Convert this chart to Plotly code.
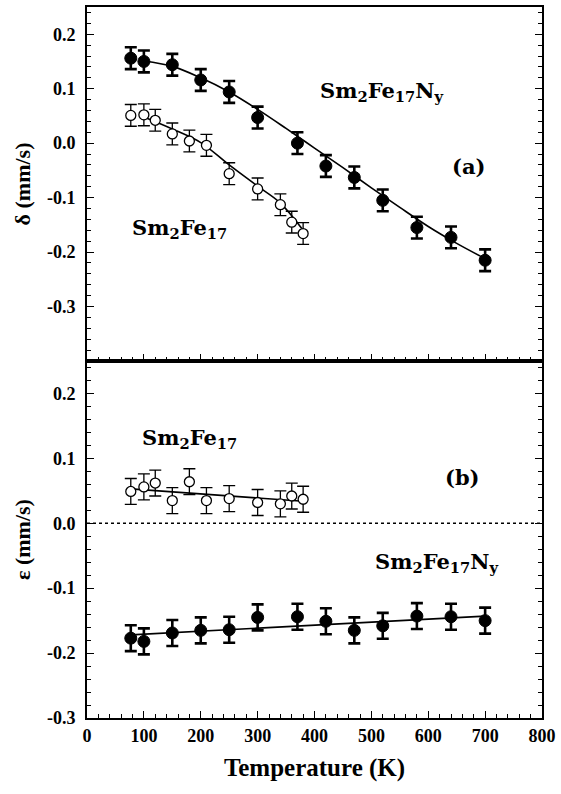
import plotly.graph_objects as go

# ---------------- data ----------------
# (a) isomer shift delta (mm/s)
T_N = [77, 100, 150, 200, 250, 300, 370, 420, 470, 520, 580, 640, 700]
delta_N = [0.156, 0.150, 0.144, 0.116, 0.094, 0.047, 0.000, -0.042, -0.063, -0.105, -0.155, -0.173, -0.215]
delta_N_err = [0.02] * 13

T_0 = [77, 100, 120, 150, 180, 210, 250, 300, 340, 360, 380]
delta_0 = [0.051, 0.052, 0.042, 0.017, 0.004, -0.004, -0.056, -0.084, -0.113, -0.145, -0.166]
delta_0_err = [0.02] * 11

fitT_N = [100, 150, 200, 250, 300, 350, 400, 450, 500, 550, 600, 650, 700]
fit_delta_N = [0.151, 0.141, 0.120, 0.094, 0.062, 0.027, -0.009, -0.045, -0.082, -0.118, -0.153, -0.184, -0.212]

fitT_0 = [100, 150, 200, 250, 300, 340, 380]
fit_delta_0 = [0.048, 0.026, 0.001, -0.040, -0.079, -0.110, -0.160]

# (b) quadrupole shift epsilon (mm/s)
eps_0 = [0.049, 0.056, 0.062, 0.035, 0.064, 0.035, 0.038, 0.032, 0.030, 0.042, 0.037]
eps_0_err = [0.02] * 11
eps_N = [-0.177, -0.182, -0.169, -0.165, -0.164, -0.145, -0.144, -0.151, -0.165, -0.158, -0.143, -0.144, -0.150]
eps_N_err = [0.02] * 13

fitT_eps_0 = [77, 380]
fit_eps_0 = [0.053, 0.034]
fitT_eps_N = [77, 700]
fit_eps_N = [-0.172, -0.143]

x_ticks = [0, 100, 200, 300, 400, 500, 600, 700, 800]
y_ticks = [0.2, 0.1, 0.0, -0.1, -0.2, -0.3]
y_ticklabels = ["0.2", "0.1", "0.0", "-0.1", "-0.2", "-0.3"]
x_ticklabels = ["0", "100", "200", "300", "400", "500", "600", "700", "800"]

# ---------------- figure ----------------
BLACK = "black"
fig = go.Figure()

def fit_line(x, y, xa, ya):
    fig.add_trace(go.Scatter(x=x, y=y, mode="lines", xaxis=xa, yaxis=ya,
                             line=dict(color=BLACK, width=1.6, shape="spline"),
                             hoverinfo="skip", showlegend=False))

def filled(x, y, e, xa, ya):
    fig.add_trace(go.Scatter(x=x, y=y, mode="markers", xaxis=xa, yaxis=ya,
                             marker=dict(symbol="circle", size=12, color=BLACK,
                                         line=dict(color=BLACK, width=1)),
                             error_y=dict(type="data", array=e, color=BLACK,
                                          thickness=2.6, width=6),
                             showlegend=False))

def opened(x, y, e, xa, ya):
    fig.add_trace(go.Scatter(x=x, y=y, mode="markers", xaxis=xa, yaxis=ya,
                             marker=dict(symbol="circle", size=10, color="white",
                                         line=dict(color=BLACK, width=1.3)),
                             error_y=dict(type="data", array=e, color=BLACK,
                                          thickness=1.3, width=6),
                             showlegend=False))

# panel (a)
fit_line(fitT_N, fit_delta_N, "x", "y")
fit_line(fitT_0, fit_delta_0, "x", "y")
filled(T_N, delta_N, delta_N_err, "x", "y")
opened(T_0, delta_0, delta_0_err, "x", "y")

# panel (b)
fit_line(fitT_eps_0, fit_eps_0, "x2", "y2")
fit_line(fitT_eps_N, fit_eps_N, "x2", "y2")
opened(T_0, eps_0, eps_0_err, "x2", "y2")
filled(T_N, eps_N, eps_N_err, "x2", "y2")

tickfont = dict(family="Liberation Serif", size=18, color=BLACK)
titlefont = dict(family="Liberation Serif", size=22, color=BLACK)

bold = lambda lst: ["<b>%s</b>" % s for s in lst]

common_x = dict(range=[0, 800], showline=True, linecolor=BLACK, linewidth=1.8,
                mirror=True, ticks="inside", ticklen=7, tickwidth=1.2, tickcolor=BLACK,
                tickvals=x_ticks, ticktext=bold(x_ticklabels), showgrid=False, zeroline=False,
                minor=dict(ticks="inside", ticklen=4, tickwidth=1, tickcolor=BLACK,
                           tick0=0, dtick=20, showgrid=False),
                tickfont=tickfont)
common_y = dict(showline=True, linecolor=BLACK, linewidth=1.8, mirror="ticks",
                ticks="inside", ticklen=7, tickwidth=1.2, tickcolor=BLACK,
                tickvals=y_ticks, ticktext=bold(y_ticklabels), showgrid=False, zeroline=False,
                minor=dict(ticks="inside", ticklen=4, tickwidth=1, tickcolor=BLACK,
                           tick0=0, dtick=0.02, showgrid=False),
                tickfont=tickfont, ticklabelstandoff=6)

split = (718 - 360) / 713

fig.update_layout(
    width=561, height=794,
    margin=dict(l=87, r=16, t=5, b=76),
    paper_bgcolor="white", plot_bgcolor="white",
    showlegend=False,
    xaxis=dict(common_x, anchor="y", showticklabels=False),
    yaxis=dict(common_y, domain=[split, 1], range=[-0.4, 0.25], anchor="x",
               title=dict(text="<b>δ (mm/s)</b>", font=titlefont, standoff=10)),
    xaxis2=dict(common_x, anchor="y2", showticklabels=True,
                title=dict(text="<b>Temperature (K)</b>",
                           font=dict(family="Liberation Serif", size=25, color=BLACK),
                           standoff=14)),
    yaxis2=dict(common_y, domain=[0, split], range=[-0.3, 0.25], anchor="x2",
                title=dict(text="<b>ε (mm/s)</b>", font=titlefont, standoff=10)),
)

# zero reference line in panel (b)
fig.add_shape(type="line", xref="x2 domain", yref="y2", x0=0, x1=1, y0=0, y1=0,
              line=dict(color=BLACK, width=1.5, dash="dot"))

annfont = dict(family="DejaVu Serif", size=21, color=BLACK)
labels = [
    ("x", "y", 518, 0.095, "<b>Sm<sub>2</sub>Fe<sub>17</sub>N<sub>y</sub></b>"),
    ("x", "y", 670, -0.042, "<b>(a)</b>"),
    ("x", "y", 162, -0.156, "<b>Sm<sub>2</sub>Fe<sub>17</sub></b>"),
    ("x2", "y2", 180, 0.131, "<b>Sm<sub>2</sub>Fe<sub>17</sub></b>"),
    ("x2", "y2", 661, 0.071, "<b>(b)</b>"),
    ("x2", "y2", 614, -0.061, "<b>Sm<sub>2</sub>Fe<sub>17</sub>N<sub>y</sub></b>"),
]
for xr, yr, xv, yv, txt in labels:
    fig.add_annotation(xref=xr, yref=yr, x=xv, y=yv, text=txt, showarrow=False,
                       font=annfont, xanchor="center", yanchor="middle")

fig.write_html("out.html")
